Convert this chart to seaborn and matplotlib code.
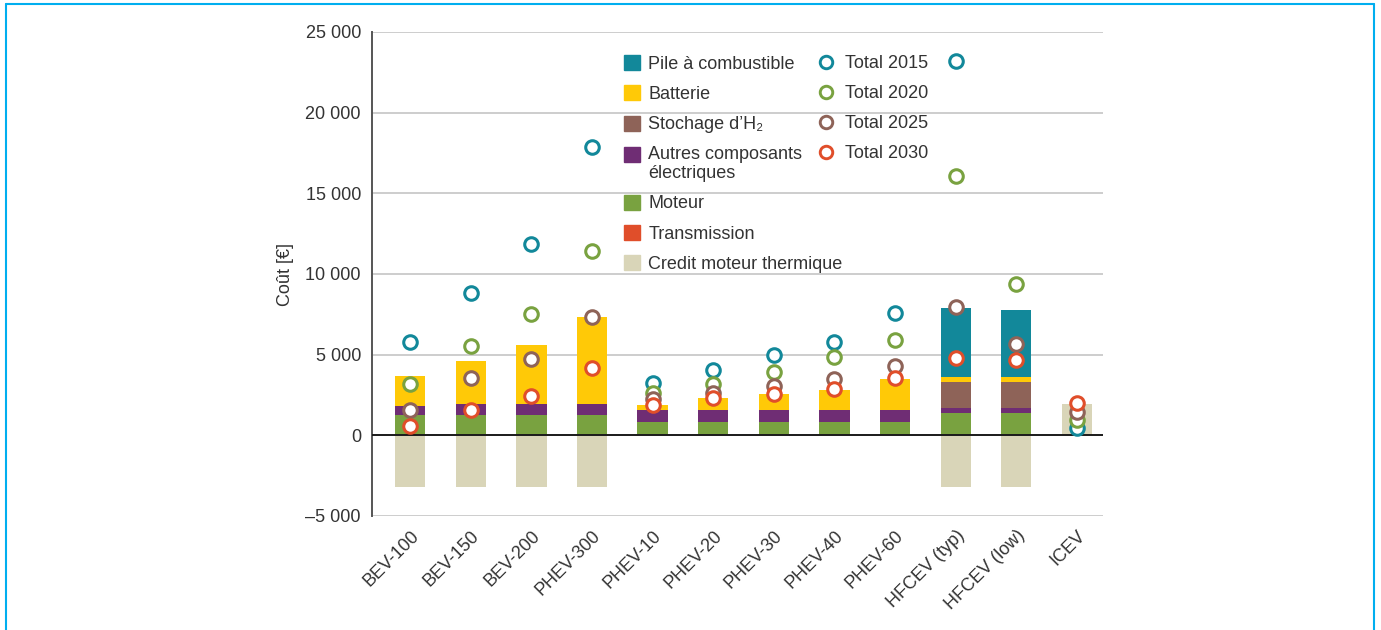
import numpy as np
import matplotlib
matplotlib.use("Agg")
import matplotlib.pyplot as plt
import seaborn as sns
from matplotlib.patches import Patch, Rectangle
from matplotlib.lines import Line2D
from matplotlib.legend_handler import HandlerPatch

# ---- data (EUR) ----
categories = ["BEV-100", "BEV-150", "BEV-200", "PHEV-300", "PHEV-10", "PHEV-20",
              "PHEV-30", "PHEV-40", "PHEV-60", "HFCEV (typ)", "HFCEV (low)", "ICEV"]

transmission = [30, 30, 30, 30, 30, 30, 30, 30, 30, 30, 30, 0]
moteur       = [1210, 1210, 1210, 1210, 780, 780, 780, 780, 780, 1330, 1330, 0]
autres       = [560, 680, 680, 680, 740, 740, 740, 740, 740, 310, 310, 0]
stockage_h2  = [0, 0, 0, 0, 0, 0, 0, 0, 0, 1620, 1620, 0]
batterie     = [1860, 2670, 3660, 5400, 310, 750, 990, 1240, 1920, 310, 310, 0]
pile         = [0, 0, 0, 0, 0, 0, 0, 0, 0, 4280, 4150, 0]
credit       = [-3200, -3200, -3200, -3200, 0, 0, 0, 0, 0, -3200, -3200, 1920]

total_2015 = [5810, 8850, 11850, 17870, 3270, 4030, 4980, 5810, 7570, 23200, np.nan, 430]
total_2020 = [3200, 5560, 7500, 11410, 2650, 3200, 3950, 4880, 5940, 16070, 9350, 950]
total_2025 = [1550, 3560, 4730, 7320, 2280, 2650, 3060, 3520, 4320, 7980, 5690, 1470]
total_2030 = [580, 1590, 2440, 4160, 1860, 2300, 2540, 2850, 3550, 4780, 4670, 1980]

yticks = [-5000, 0, 5000, 10000, 15000, 20000, 25000]
ytick_labels = ["\u20135 000", "0", "5 000", "10 000", "15 000", "20 000", "25 000"]

# ---- colours ----
C_PILE = "#12889A"
C_BATT = "#FFC907"
C_H2 = "#8E6358"
C_AUTRES = "#6F2D74"
C_MOTEUR = "#79A240"
C_TRANS = "#E04E2A"
C_CREDIT = "#D9D5B8"
C_TEXT = "#333333"
FS = 13

sns.set_theme(style="white")
plt.rcParams["font.family"] = ["Liberation Sans", "DejaVu Sans"]
plt.rcParams["text.color"] = C_TEXT

fig = plt.figure(figsize=(13.81, 6.30), dpi=100)
AX_L, AX_R, AX_T, AX_B = 372, 1103, 32, 516
ax = fig.add_axes([AX_L / 1381, 1 - AX_B / 630, (AX_R - AX_L) / 1381, (AX_B - AX_T) / 630])

# stacked components: draw cumulative heights, tallest layer first
layers = [
    (transmission, C_TRANS),
    (moteur, C_MOTEUR),
    (autres, C_AUTRES),
    (stockage_h2, C_H2),
    (batterie, C_BATT),
    (pile, C_PILE),
]
cum = np.cumsum(np.array([np.array(v, dtype=float) for v, _ in layers]), axis=0)

for grid_y in yticks:
    if grid_y != 0:
        ax.axhline(grid_y, color="#C9C9C9", lw=1.3, zorder=0)

bar_kw = dict(saturation=1, width=0.5, ax=ax, order=categories, zorder=2,
              linewidth=0, edgecolor="none")
sns.barplot(x=categories, y=credit, color=C_CREDIT, **bar_kw)
for i in range(len(layers) - 1, -1, -1):
    sns.barplot(x=categories, y=cum[i], color=layers[i][1], **bar_kw)

ax.axhline(0, color="#1a1a1a", lw=1.4, zorder=3)

# totals per year
pos = np.arange(len(categories))
totals = [(total_2015, C_PILE), (total_2020, C_MOTEUR), (total_2025, C_H2), (total_2030, C_TRANS)]
for vals, col in totals:
    sns.scatterplot(x=pos, y=vals, marker="o", s=95, facecolor="white", edgecolor=col,
                    linewidth=2.2, ax=ax, zorder=5, legend=False)

ax.set_xlim(-0.63, 11.43)
ax.set_ylim(-5000, 25000)
ax.set_yticks(yticks)
ax.set_yticklabels(ytick_labels, fontsize=FS, color=C_TEXT)
ax.set_xticks(pos)
ax.set_xticklabels(categories, rotation=45, ha="right", rotation_mode="anchor",
                   fontsize=FS, color=C_TEXT)
ax.tick_params(axis="y", length=0, pad=8)
ax.tick_params(axis="x", length=0, pad=8)
ax.set_xlabel("")
ax.set_ylabel("Coût [€]", fontsize=FS, color=C_TEXT, labelpad=8)

for side in ["top", "right", "bottom"]:
    ax.spines[side].set_visible(False)
ax.spines["left"].set_color("#555555")
ax.spines["left"].set_linewidth(1.4)


def ax_frac(px, py):
    return ((px - AX_L) / (AX_R - AX_L), 1 - (py - AX_T) / (AX_B - AX_T))


def top_line_patch(legend, orig_handle, xdescent, ydescent, width, height, fontsize):
    # square aligned with the first line of a two-line label
    return Rectangle((-xdescent, -ydescent + 7.3), width, height)


# legends
comp_handles = [
    Patch(color=C_PILE, label="Pile à combustible"),
    Patch(color=C_BATT, label="Batterie"),
    Patch(color=C_H2, label="Stochage d’H\u2082"),
    Patch(color=C_AUTRES, label="Autres composants\nélectriques"),
    Patch(color=C_MOTEUR, label="Moteur"),
    Patch(color=C_TRANS, label="Transmission"),
    Patch(color=C_CREDIT, label="Credit moteur thermique"),
]
leg1 = ax.legend(handles=comp_handles, loc="upper left", bbox_to_anchor=ax_frac(624, 55),
                 frameon=False, fontsize=FS, handlelength=0.9, handleheight=0.9,
                 handletextpad=0.45, labelspacing=0.7, borderaxespad=0, borderpad=0,
                 handler_map={comp_handles[3]: HandlerPatch(patch_func=top_line_patch)})
for t in leg1.get_texts():
    t.set_linespacing(1.15)
ax.add_artist(leg1)

tot_handles = [
    Line2D([], [], marker="o", ls="", ms=9, mfc="white", mec=C_PILE, mew=2.1, label="Total 2015"),
    Line2D([], [], marker="o", ls="", ms=9, mfc="white", mec=C_MOTEUR, mew=2.1, label="Total 2020"),
    Line2D([], [], marker="o", ls="", ms=9, mfc="white", mec=C_H2, mew=2.1, label="Total 2025"),
    Line2D([], [], marker="o", ls="", ms=9, mfc="white", mec=C_TRANS, mew=2.1, label="Total 2030"),
]
ax.legend(handles=tot_handles, loc="upper left", bbox_to_anchor=ax_frac(815, 55),
          frameon=False, fontsize=FS, handlelength=1.2, handletextpad=0.45,
          labelspacing=0.72, borderaxespad=0, borderpad=0)

# outer frame
for xs, ys in [([6, 6], [630, 4]), ([6, 1374], [4, 4]), ([1374, 1374], [4, 630])]:
    fig.add_artist(Line2D([x / 1381 for x in xs], [1 - y / 630 for y in ys],
                          color="#00AEEF", lw=1.5))

fig.savefig("out.png", dpi=100, facecolor="white")
